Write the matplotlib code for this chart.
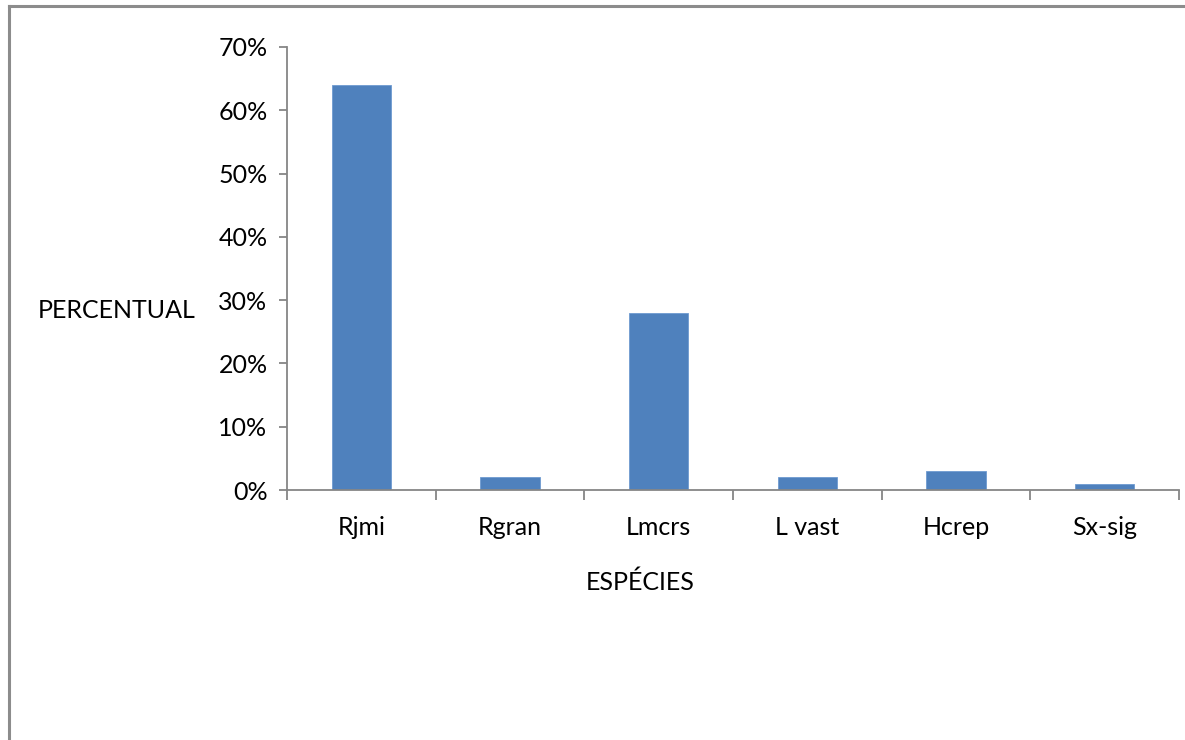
import matplotlib
matplotlib.use("Agg")
import matplotlib.pyplot as plt
from matplotlib.lines import Line2D
from matplotlib.ticker import FuncFormatter, MultipleLocator

species = ["Rjmi", "Rgran", "Lmcrs", "L vast", "Hcrep", "Sx-sig"]
percent = [64, 2, 28, 2, 3, 1]
y_ticks = [0, 10, 20, 30, 40, 50, 60, 70]

plt.rcParams["font.family"] = ["Lato", "DejaVu Sans"]
axis_color = "#868686"
bar_color = "#4F81BD"
fs = 18

fig = plt.figure(figsize=(11.85, 7.4), dpi=100)
ax = fig.add_axes([287 / 1185, 1 - 490 / 740, (1179 - 287) / 1185, (490 - 47) / 740])

x = list(range(len(species)))
ax.bar(x, percent, width=0.4, color=bar_color, edgecolor="#6f9bd1", linewidth=0.6, zorder=2)

ax.set_xlim(-0.5, len(species) - 0.5)
ax.set_ylim(0, 70)
ax.set_yticks(y_ticks)
ax.yaxis.set_major_formatter(FuncFormatter(lambda v, p: f"{int(v)}%"))
ax.set_xticks(x)
ax.set_xticklabels(species)
ax.xaxis.set_minor_locator(MultipleLocator(1, offset=0.5))

for side in ("top", "right"):
    ax.spines[side].set_visible(False)
for side in ("left", "bottom"):
    ax.spines[side].set_color(axis_color)
    ax.spines[side].set_linewidth(1.3)

ax.tick_params(axis="y", direction="out", length=6, width=1.3, color=axis_color,
               labelsize=fs, pad=8, labelcolor="black")
ax.tick_params(axis="x", which="major", length=0, labelsize=fs, pad=19, labelcolor="black")
ax.tick_params(axis="x", which="minor", direction="out", length=7, width=1.3, color=axis_color)
ax.spines["bottom"].set_zorder(3)

fig.text(640 / 1185, 1 - 582 / 740, "ESPÉCIES", ha="center", va="center", fontsize=fs)
fig.text(38 / 1185, 1 - 311 / 740, "PERCENTUAL", ha="left", va="center", fontsize=fs)

# chart-area frame (left and top edges)
border = "#8c8c8c"
fig.add_artist(Line2D([9 / 1185, 9 / 1185], [0, 1 - 6 / 740], color=border, linewidth=2.2,
                      transform=fig.transFigure))
fig.add_artist(Line2D([9 / 1185, 1], [1 - 6 / 740, 1 - 6 / 740], color=border, linewidth=2.2,
                      transform=fig.transFigure))

fig.savefig("out.png", dpi=100, facecolor="white")
